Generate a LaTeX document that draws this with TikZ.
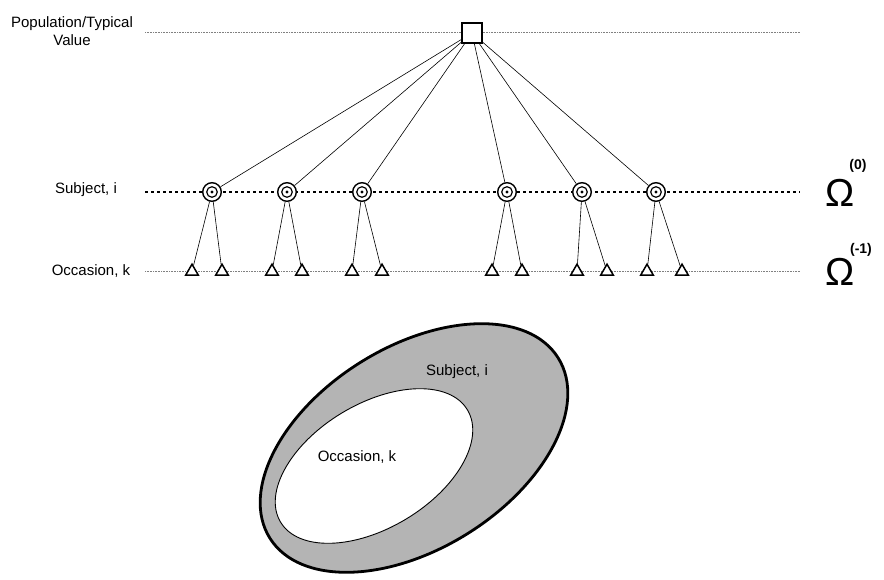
\documentclass[tikz,border=0pt]{standalone}
\usepackage{fontspec}
\setmainfont{Liberation Sans}
\usepackage{tikz}
\usetikzlibrary{shapes.geometric}
\definecolor{ringgray}{RGB}{180,180,180}

\begin{document}
\begin{tikzpicture}[x = 1pt, y = -1pt, font=\fontsize{15}{18}\selectfont,
		level/.style = {draw=gray, line width=0.6pt, dash pattern=on 0.8pt off 0.8pt},
		subjlevel/.style = {draw, line width=2.6pt, dash pattern=on 3pt off 3pt},
		typical/.style = {draw, rectangle, line width=1.6pt, minimum size=19.5pt, inner sep=0pt, fill=white},
		subj/.style = {draw, circle, line width=1.4pt, fill=white, minimum size=18.6pt, inner sep=0pt,
			path picture={
				\draw[line width=1.2pt] (path picture bounding box.center) circle (5.3pt);
				\fill[black] (path picture bounding box.center) circle (1.6pt);}},
		occ/.style = {draw, regular polygon, regular polygon sides=3, line width=1.5pt,
			minimum size=14.6pt, inner sep=0pt, fill=white},
		omega/.style = {font=\fontsize{39}{39}\selectfont, inner sep=0pt},
		omsup/.style = {font=\bfseries\fontsize{14}{14}\selectfont, inner sep=0pt}]
	\useasboundingbox (0,0) rectangle (884,580);

	% levels
	\path[level] (145,32) -- (800,32);
	\path[subjlevel] (145,192) -- (800,192);
	\path[level] (145,271) -- (800,271);

	\node[align=center] (pvlabel) at (72,31) {Population/Typical\\Value};
	\node (sublabel) at (86,190) {Subject, i};
	\node (occlabel) at (91,271) {Occasion, k};

	\node[typical] (pv) at (472,33) {};

	\node[subj] (s1) at (212,192) {};
	\node[subj] (s2) at (287,192) {};
	\node[subj] (s3) at (362,192) {};
	\node[subj] (s4) at (507,192) {};
	\node[subj] (s5) at (582,192) {};
	\node[subj] (s6) at (656,192) {};

	\node[occ] (o1a) at (192,271.5) {};
	\node[occ] (o1b) at (222,271.5) {};
	\node[occ] (o2a) at (272,271.5) {};
	\node[occ] (o2b) at (302,271.5) {};
	\node[occ] (o3a) at (352,271.5) {};
	\node[occ] (o3b) at (382,271.5) {};
	\node[occ] (o4a) at (492,271.5) {};
	\node[occ] (o4b) at (522,271.5) {};
	\node[occ] (o5a) at (577,271.5) {};
	\node[occ] (o5b) at (607,271.5) {};
	\node[occ] (o6a) at (647,271.5) {};
	\node[occ] (o6b) at (682,271.5) {};

	\path[draw, line width=0.6pt]
		(pv) edge (s1)
		(pv) edge (s2)
		(pv) edge (s3)
		(pv) edge (s4)
		(pv) edge (s5)
		(pv) edge (s6)
		(s1) edge (o1a) (s1) edge (o1b)
		(s2) edge (o2a) (s2) edge (o2b)
		(s3) edge (o3a) (s3) edge (o3b)
		(s4) edge (o4a) (s4) edge (o4b)
		(s5) edge (o5a) (s5) edge (o5b)
		(s6) edge (o6a) (s6) edge (o6b);

	\node[omega] (om0) at (840,193) {Ω};
	\node[omsup] (om0sup) at (858,166) {(0)};
	\node[omega] (om1) at (840,272) {Ω};
	\node[omsup] (om1sup) at (861,250) {(-1)};

	% nested ellipses
	\filldraw[fill=ringgray, line width=2.8pt, rotate around={32:(414,448)}]
		(414,448) ellipse [x radius=170, y radius=101];
	\filldraw[fill=white, line width=0.9pt, rotate around={31:(374,466)}]
		(374,466) ellipse [x radius=109, y radius=62];
	\node (subjring) at (457,372) {Subject, i};
	\node (occring) at (357,457) {Occasion, k};
\end{tikzpicture}
\end{document}
